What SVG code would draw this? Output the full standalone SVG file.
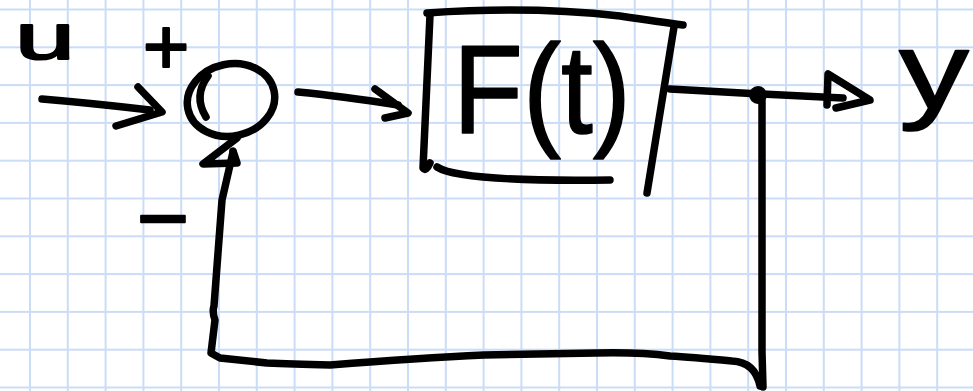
<svg xmlns="http://www.w3.org/2000/svg" width="973" height="391" viewBox="0 0 973 391">
  <defs>
    <pattern id="grid" patternUnits="userSpaceOnUse" x="29" y="8.5" width="37.8" height="37.8">
      <path d="M1,0 V37.8 M0,1 H37.8" fill="none" stroke="#cadcf7" stroke-width="2"/>
    </pattern>
    <style>
      .ink { fill: none; stroke: #000; stroke-width: 7.5; stroke-linecap: round; stroke-linejoin: round; }
      .txt { font-family: "Liberation Sans", Arial, sans-serif; fill: #000; stroke: #000; stroke-width: 2; stroke-linejoin: round; }
      .big { stroke-width: 1.5; }
    </style>
  </defs>
  <rect width="973" height="391" fill="#ffffff"/>
  <rect width="973" height="391" fill="url(#grid)"/>

  <g id="label-u"><text class="txt" x="15" y="59" font-size="64" textLength="60" lengthAdjust="spacingAndGlyphs">u</text></g>
  <g id="label-plus"><text class="txt" x="166" y="74" font-size="80" text-anchor="middle">+</text></g>
  <g id="label-minus"><text class="txt" x="163" y="249" font-size="90" text-anchor="middle">−</text></g>

  <g id="sum">
    <ellipse class="ink" cx="231" cy="100" rx="44" ry="36" transform="rotate(-12 231 100)"/>
    <path class="ink" d="M208,76 Q193,96 206,117"/>
  </g>

  <g id="block-F">
    <path class="ink" d="M427,13 Q530,6 620,16 Q660,22 683,25"/>
    <path class="ink" d="M430,15 L423,168 Q426,172 430,163"/>
    <path class="ink" d="M437,167 Q460,182 610,180"/>
    <path class="ink" d="M674,27 L647,193"/>
    <text class="txt big" x="453" y="133" font-size="126" textLength="178" lengthAdjust="spacingAndGlyphs">F(t)</text>
  </g>

  <g id="branch">
    <circle cx="758" cy="95" r="9" fill="#000"/>
  </g>

  <g id="label-y"><text class="txt big" x="899" y="108" font-size="110" textLength="70" lengthAdjust="spacingAndGlyphs">y</text></g>

  <g id="connectors">
    <path class="ink" d="M42,99 Q90,103 150,110"/>
    <path class="ink" d="M138,87 L162,112 L116,126"/>
    <path class="ink" d="M298,92 Q340,96 398,105"/>
    <path class="ink" d="M375,89 L408,113 L385,118"/>
    <path class="ink" d="M670,89 L760,94 L843,98"/>
    <path class="ink" d="M836,108 L870,100 L828,74 L827,105"/>
    <path class="ink" d="M762,100 L762,352 L763,387"/>
    <path class="ink" d="M760,386 Q755,362 732,361 Q690,357 670,356 Q640,352 596,353 L484,355 Q420,358 330,365 Q290,364 267,363 L220,358 L211,353 L215,320 Q212,312 214,306 L222,200 L233,152"/>
    <path class="ink" d="M237,138 L203,164 L237,163 L233,151"/>
  </g>
</svg>
